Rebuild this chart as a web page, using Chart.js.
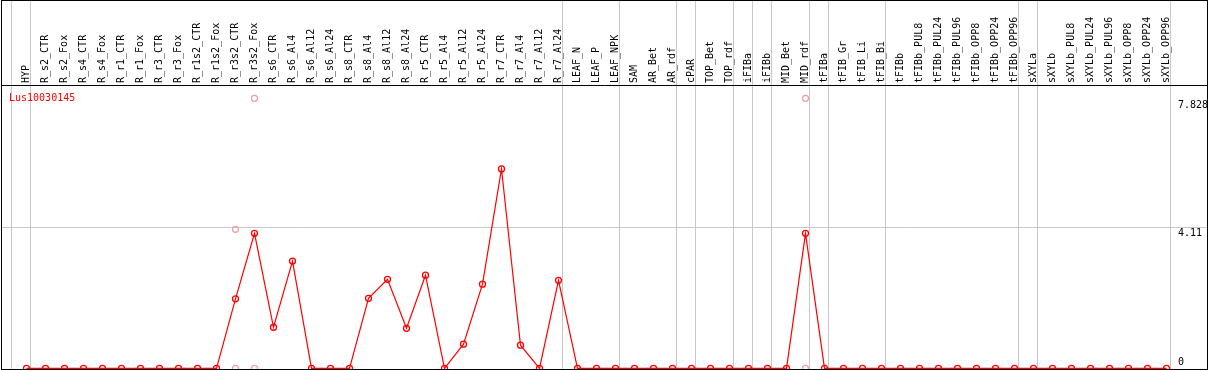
<!DOCTYPE html>
<html><head><meta charset="utf-8">
<script src="https://cdn.jsdelivr.net/npm/chart.js@4.4.1/dist/chart.umd.min.js"></script>
<style>html,body{margin:0;padding:0;background:#fff;overflow:hidden}#wrap{width:1209px;height:370px;position:relative}</style>
</head><body><div id="wrap"><canvas id="c" width="1209" height="370"></canvas></div>
<script>
const categories = ['HYP','R_s2_CTR','R_s2_Fox','R_s4_CTR','R_s4_Fox','R_r1_CTR','R_r1_Fox','R_r3_CTR','R_r3_Fox','R_r1s2_CTR','R_r1s2_Fox','R_r3s2_CTR','R_r3s2_Fox','R_s6_CTR','R_s6_Al4','R_s6_Al12','R_s6_Al24','R_s8_CTR','R_s8_Al4','R_s8_Al12','R_s8_Al24','R_r5_CTR','R_r5_Al4','R_r5_Al12','R_r5_Al24','R_r7_CTR','R_r7_Al4','R_r7_Al12','R_r7_Al24','LEAF_N','LEAF_P','LEAF_NPK','SAM','AR_Bet','AR_rdf','cPAR','TOP_Bet','TOP_rdf','iFIBa','iFIBb','MID_Bet','MID_rdf','tFIBa','tFIB_Gr','tFIB_Li','tFIB_Bi','tFIBb','tFIBb_PUL8','tFIBb_PUL24','tFIBb_PUL96','tFIBb_OPP8','tFIBb_OPP24','tFIBb_OPP96','sXYLa','sXYLb','sXYLb_PUL8','sXYLb_PUL24','sXYLb_PUL96','sXYLb_OPP8','sXYLb_OPP24','sXYLb_OPP96'];
const meanValues = [0,0,0,0,0,0,0,0,0,0,0,2.015,3.914,1.19,3.11,0,0,0,2.03,2.58,1.16,2.70,0,0.70,2.44,5.78,0.67,0,2.55,0,0,0,0,0,0,0,0,0,0,0,0,3.914,0,0,0,0,0,0,0,0,0,0,0,0,0,0,0,0,0,0,0];
const replicateCategories = ['R_r3s2_CTR','R_r3s2_Fox','MID_rdf','R_r3s2_CTR','R_r3s2_Fox','MID_rdf'];
const replicateValues = [4.03,7.828,7.828,0,0,0];
const yTickValues = [0,4.11,7.828];
const yTickLabels = ['0','4.11','7.828'];
const groupEndIndices = [-1,0,28,31,34,35,37,38,39,41,42,45,52,53,60];
const geneName = 'Lus10030145';
const yMax = 8.185;

const FONT = '10px "DejaVu Sans Mono", monospace';

const decor = {
  id: 'decor',
  beforeDatasetsDraw(chart) {
    const {ctx, chartArea: a, scales: {x, y}} = chart;
    ctx.save();
    ctx.strokeStyle = '#c8c8c8';
    ctx.lineWidth = 1;
    const top = yTickValues[yTickValues.length - 1];
    yTickValues.forEach(v => {
      if (v > 0 && v < top) {
        const py = Math.round(y.getPixelForValue(v)) + 0.5;
        ctx.beginPath(); ctx.moveTo(1, py); ctx.lineTo(1208, py); ctx.stroke();
      }
    });
    groupEndIndices.forEach(i => {
      const px = Math.round(x.getPixelForValue(i) + 3.5) + 0.5;
      ctx.beginPath(); ctx.moveTo(px, 0); ctx.lineTo(px, a.bottom + 2); ctx.stroke();
    });
    // header labels
    ctx.fillStyle = '#000';
    ctx.font = FONT;
    ctx.textAlign = 'left';
    ctx.textBaseline = 'middle';
    categories.forEach((c, i) => {
      ctx.save();
      ctx.translate(x.getPixelForValue(i), a.top - 3);
      ctx.rotate(-Math.PI / 2);
      ctx.fillText(c, 0, 0);
      ctx.restore();
    });
    // y labels
    yTickValues.forEach((v, k) => {
      const py = y.getPixelForValue(v);
      if (v === 0) { ctx.textBaseline = 'bottom'; ctx.fillText(yTickLabels[k], a.right + 2, py - 1); }
      else { ctx.textBaseline = 'middle'; ctx.fillText(yTickLabels[k], a.right + 2, py + 7); }
    });
    // gene name
    ctx.fillStyle = '#ff0000';
    ctx.textBaseline = 'middle';
    ctx.fillText(geneName, 9, y.getPixelForValue(top));
    ctx.restore();
  },
  afterDatasetsDraw(chart) {
    const {ctx, chartArea: a} = chart;
    ctx.save();
    ctx.strokeStyle = '#000';
    ctx.lineWidth = 1;
    ctx.strokeRect(1.5, 0.5, 1206, 369);
    ctx.beginPath(); ctx.moveTo(1, Math.round(a.top) - 0.5); ctx.lineTo(1208, Math.round(a.top) - 0.5); ctx.stroke();
    ctx.restore();
  }
};

new Chart(document.getElementById('c'), {
  type: 'line',
  data: {
    labels: categories,
    datasets: [
      {
        label: geneName,
        data: meanValues,
        borderColor: '#ff0000',
        borderWidth: 1.2,
        pointRadius: 3,
        pointBorderWidth: 1.3,
        pointBorderColor: '#ff0000',
        pointBackgroundColor: 'rgba(0,0,0,0)',
        tension: 0,
        clip: false,
        order: 0
      },
      {
        label: 'replicates',
        data: replicateCategories.map((c, k) => ({x: c, y: replicateValues[k]})),
        showLine: false,
        borderColor: '#f0a0a0',
        pointRadius: 3,
        pointBorderWidth: 1.3,
        pointBorderColor: '#f0a0a0',
        pointBackgroundColor: 'rgba(0,0,0,0)',
        clip: false,
        order: 1
      }
    ]
  },
  options: {
    responsive: false,
    animation: false,
    devicePixelRatio: 1,
    layout: {autoPadding: false, padding: {left: 17, right: 33, top: 86, bottom: 1.7}},
    plugins: {legend: {display: false}, tooltip: {enabled: false}},
    scales: {
      x: {type: 'category', offset: true, display: false},
      y: {type: 'linear', min: 0, max: yMax, display: false}
    }
  },
  plugins: [decor]
});
</script></body></html>
